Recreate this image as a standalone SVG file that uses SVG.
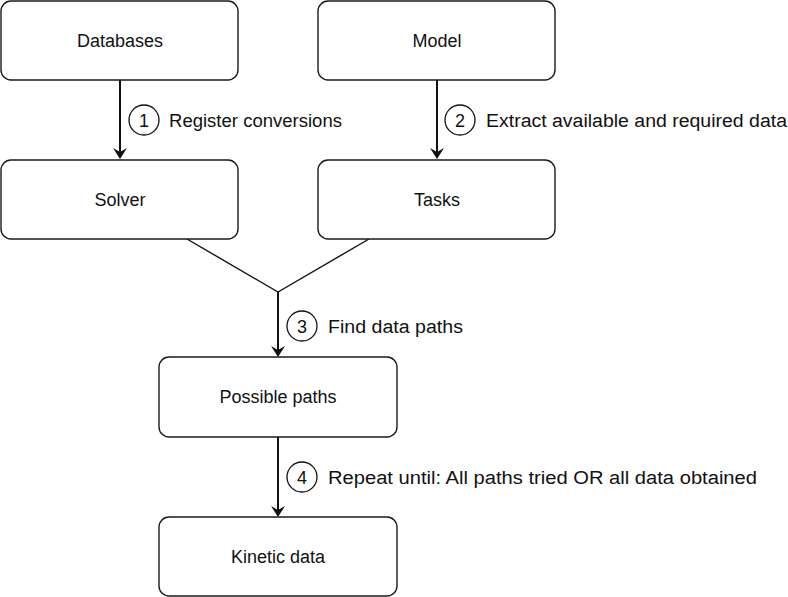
<svg xmlns="http://www.w3.org/2000/svg" width="788" height="597" viewBox="0 0 788 597">
<defs>
<style>
.box{fill:#fff;stroke:#1a1a1a;stroke-width:1.4}
.t{font-family:"Liberation Sans",Arial,sans-serif;font-size:18px;fill:#111}
.c{text-anchor:middle}
.edge{fill:none;stroke:#111;stroke-width:2}
.num{fill:#fff;stroke:#111;stroke-width:1.3}
</style>
<marker id="ah" viewBox="0 0 11 14" refX="7" refY="7" markerWidth="11" markerHeight="14" markerUnits="userSpaceOnUse" orient="auto">
<path d="M0,0 L11,7 L0,14 L4,7 Z" fill="#111"/>
</marker>
</defs>
<rect width="788" height="597" fill="#fff"/>
<g id="connectors">
<line class="edge" x1="120" y1="80" x2="120" y2="155" marker-end="url(#ah)"/>
<line class="edge" x1="437" y1="80" x2="437" y2="155" marker-end="url(#ah)"/>
<polyline fill="none" stroke="#111" stroke-width="1.4" points="187,239 278,292 369,239"/>
<line class="edge" x1="278" y1="292" x2="278" y2="353" marker-end="url(#ah)"/>
<line class="edge" x1="278" y1="437" x2="278" y2="513" marker-end="url(#ah)"/>
<g id="label1"><circle class="num" cx="144" cy="120" r="15"/><text class="t c" x="144" y="126.5">1</text><text class="t" x="169" y="127" textLength="173" lengthAdjust="spacingAndGlyphs">Register conversions</text></g>
<g id="label2"><circle class="num" cx="460" cy="120" r="15"/><text class="t c" x="460" y="126.5">2</text><text class="t" x="486" y="127" textLength="301" lengthAdjust="spacingAndGlyphs">Extract available and required data</text></g>
<g id="label3"><circle class="num" cx="302" cy="326" r="15"/><text class="t c" x="302" y="332.5">3</text><text class="t" x="328" y="333" textLength="135" lengthAdjust="spacingAndGlyphs">Find data paths</text></g>
<g id="label4"><circle class="num" cx="302" cy="477" r="15"/><text class="t c" x="302" y="483.5">4</text><text class="t" x="328" y="484" textLength="429" lengthAdjust="spacingAndGlyphs">Repeat until: All paths tried OR all data obtained</text></g>
</g>
<g id="databases"><rect class="box" x="1" y="1" width="237" height="79" rx="10"/><text class="t c" x="120" y="47">Databases</text></g>
<g id="model"><rect class="box" x="318" y="1" width="237" height="79" rx="10"/><text class="t c" x="437" y="47">Model</text></g>
<g id="solver"><rect class="box" x="1" y="160" width="237" height="79" rx="10"/><text class="t c" x="120" y="206">Solver</text></g>
<g id="tasks"><rect class="box" x="318" y="160" width="237" height="79" rx="10"/><text class="t c" x="437" y="206">Tasks</text></g>
<g id="possible"><rect class="box" x="159" y="357" width="238" height="80" rx="10"/><text class="t c" x="278" y="403">Possible paths</text></g>
<g id="kinetic"><rect class="box" x="159" y="517" width="238" height="79" rx="10"/><text class="t c" x="278" y="563">Kinetic data</text></g>
</svg>
